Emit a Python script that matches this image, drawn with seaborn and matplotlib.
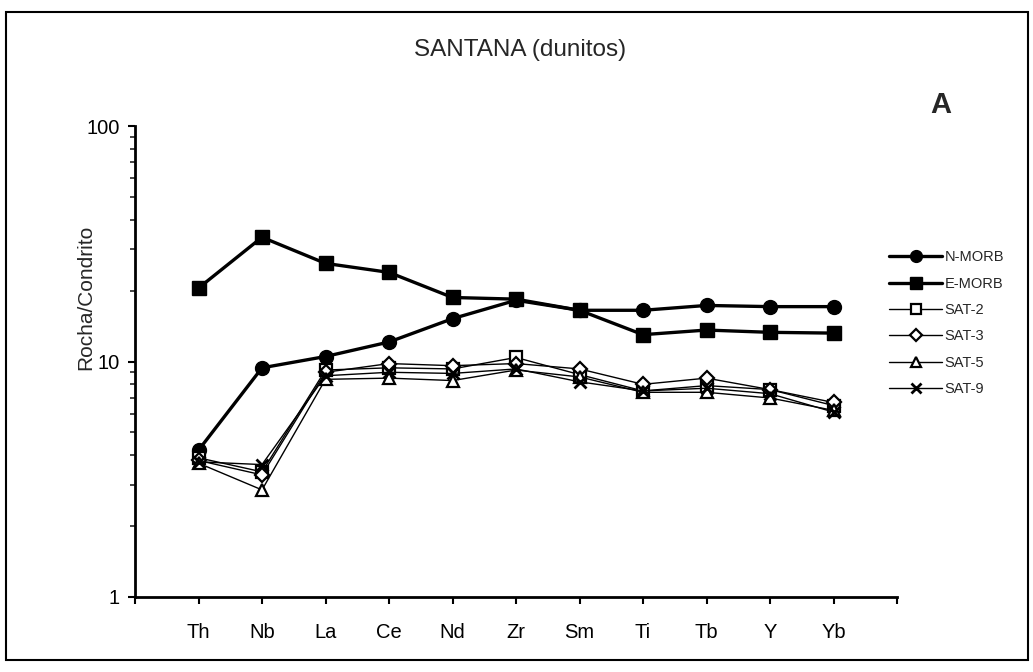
import numpy as np
import pandas as pd
import matplotlib
matplotlib.use("Agg")
import matplotlib.pyplot as plt
import seaborn as sns
from matplotlib.patches import Rectangle
from matplotlib.ticker import LogLocator, NullFormatter, FixedLocator, FixedFormatter

# Chondrite-normalised trace element abundances
elements = ["Th", "Nb", "La", "Ce", "Nd", "Zr", "Sm", "Ti", "Tb", "Y", "Yb"]
n_morb = [4.2, 9.4, 10.5, 12.1, 15.2, 18.2, 16.5, 16.5, 17.3, 17.1, 17.1]
e_morb = [20.5, 33.7, 26.1, 23.9, 18.7, 18.4, 16.5, 13.0, 13.6, 13.3, 13.2]
sat_2 = [3.9, 3.4, 9.2, 9.4, 9.3, 10.4, 8.8, 7.5, 7.9, 7.6, 6.5]
sat_3 = [3.8, 3.3, 9.0, 9.8, 9.6, 9.8, 9.3, 8.0, 8.5, 7.6, 6.7]
sat_5 = [3.7, 2.85, 8.4, 8.5, 8.3, 9.2, 8.6, 7.4, 7.4, 7.0, 6.2]
sat_9 = [3.75, 3.65, 8.7, 9.0, 8.9, 9.3, 8.2, 7.5, 7.7, 7.3, 6.1]

series_names = ["N-MORB", "E-MORB", "SAT-2", "SAT-3", "SAT-5", "SAT-9"]
series_values = [n_morb, e_morb, sat_2, sat_3, sat_5, sat_9]

sns.set_style("ticks")
plt.rcParams["font.family"] = ["Liberation Sans", "DejaVu Sans"]

fig = plt.figure(figsize=(10.33, 6.72), dpi=100)
ax = fig.add_axes([135 / 1033, 1 - 597 / 672, (897 - 135) / 1033, (597 - 126) / 672])

positions = np.arange(1, len(elements) + 1)
df = pd.DataFrame({"pos": np.tile(positions, len(series_names)),
                   "valor": np.concatenate(series_values),
                   "serie": np.repeat(series_names, len(elements))})

styles = {
    "N-MORB": dict(marker="o", markersize=10, lw=2.4, mfc="black", mec="black"),
    "E-MORB": dict(marker="s", markersize=10, lw=2.4, mfc="black", mec="black"),
    "SAT-2": dict(marker="s", markersize=8, lw=1.0, mfc="white", mec="black", mew=1.6),
    "SAT-3": dict(marker="D", markersize=7, lw=1.0, mfc="white", mec="black", mew=1.6),
    "SAT-5": dict(marker="^", markersize=9, lw=1.0, mfc="white", mec="black", mew=1.6),
    "SAT-9": dict(marker="x", markersize=9, lw=1.0, mfc="black", mec="black", mew=2.0),
}

for name in series_names:
    sub = df[df["serie"] == name]
    st = styles[name]
    sns.lineplot(data=sub, x="pos", y="valor", ax=ax, color="black",
                 marker=st["marker"], markersize=st["markersize"], linewidth=st["lw"],
                 markerfacecolor=st["mfc"], markeredgecolor=st["mec"],
                 markeredgewidth=st.get("mew", 1.0), label=name, legend=False)

ax.set_yscale("log")
ax.set_ylim(1, 100)
ax.set_xlim(0, len(elements) + 1)
ax.xaxis.set_major_locator(FixedLocator(np.arange(0, len(elements) + 2)))
ax.xaxis.set_major_formatter(FixedFormatter([""] + elements + [""]))
ax.yaxis.set_major_locator(FixedLocator([1, 10, 100]))
ax.yaxis.set_major_formatter(FixedFormatter(["1", "10", "100"]))
ax.yaxis.set_minor_locator(LogLocator(base=10, subs=np.arange(2, 10)))
ax.yaxis.set_minor_formatter(NullFormatter())

for side in ["top", "right"]:
    ax.spines[side].set_visible(False)
for side in ["left", "bottom"]:
    ax.spines[side].set_linewidth(2.0)
    ax.spines[side].set_color("black")

ax.tick_params(axis="both", which="major", direction="out", length=5, width=1.5,
               labelsize=14.5, colors="black", pad=6)
ax.tick_params(axis="x", pad=14)
ax.tick_params(axis="y", which="minor", direction="out", length=3.5, width=1.2)
ax.set_xlabel("")
ax.set_ylabel("")

fig.text(86 / 1033, 1 - 297 / 672, "Rocha/Condrito", rotation=90, ha="center", va="center",
         fontsize=15)
fig.text(520 / 1033, 1 - 50 / 672, "SANTANA (dunitos)", ha="center", va="center", fontsize=17.5)
fig.text(941 / 1033, 1 - 105 / 672, "A", ha="center", va="center", fontsize=21,
         fontweight="bold", family="Liberation Sans")

handles, labels = ax.get_legend_handles_labels()
leg = fig.legend(handles, labels, loc="upper left", bbox_to_anchor=(882 / 1033, 1 - 243 / 672),
                 bbox_transform=fig.transFigure, frameon=False, fontsize=10.5,
                 handlelength=3.6, handletextpad=0.2, labelspacing=0.85, borderpad=0,
                 markerscale=0.85)

fig.patches.append(Rectangle((6 / 1033, 1 - 660 / 672), (1028 - 6) / 1033, (660 - 12) / 672,
                             transform=fig.transFigure, fill=False, edgecolor="black", lw=1.5))

fig.savefig("out.png", dpi=100, facecolor="white")
